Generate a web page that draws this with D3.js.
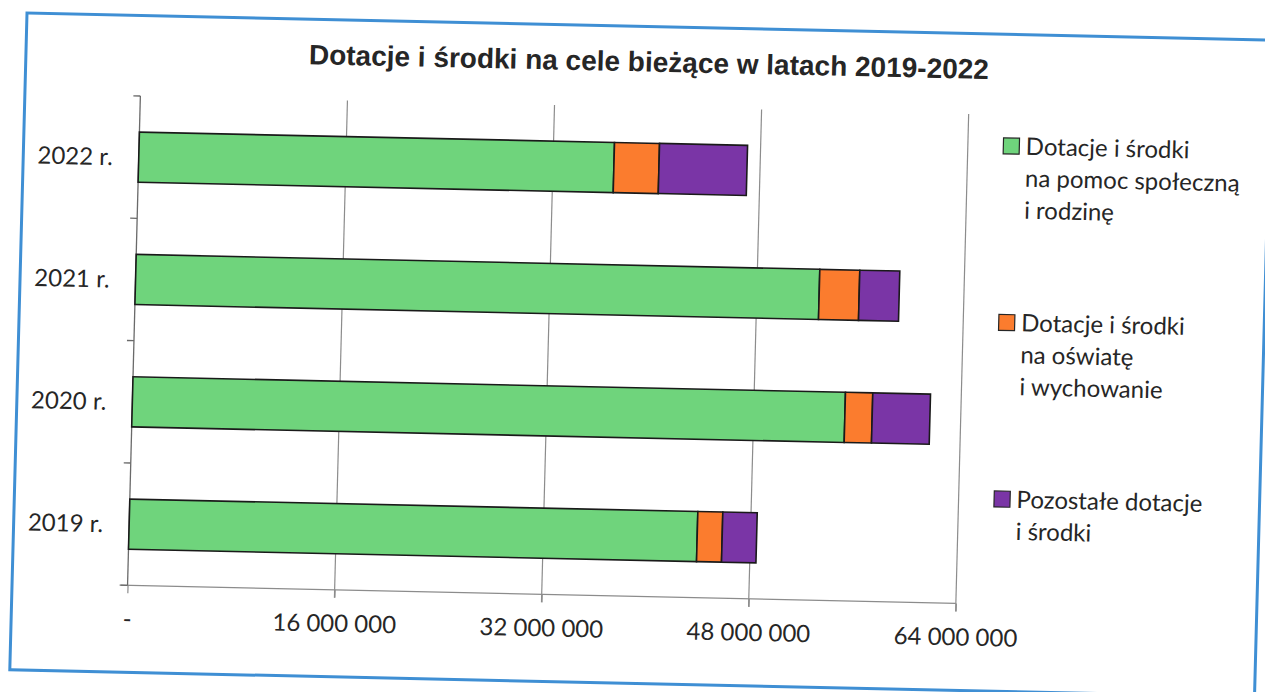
<!DOCTYPE html>
<html>
<head>
<meta charset="utf-8">
<script src="https://cdn.jsdelivr.net/npm/d3@7"></script>
<style>
	body { margin: 0; background: #fff; }
	text { font-family: Lato, "Open Sans", sans-serif; fill: #262626; }
</style>
</head>
<body>
<div id="chart"></div>
<script>
// data
let years = ['2022 r.', '2021 r.', '2020 r.', '2019 r.'];
let social = [36710000, 52820000, 55050000, 43890000];
let education = [3480000, 3090000, 2110000, 1930000];
let other = [6800000, 3090000, 4460000, 2660000];
let seriesLabels = [
	['Dotacje i środki', 'na pomoc społeczną', 'i rodzinę'],
	['Dotacje i środki', 'na oświatę', 'i wychowanie'],
	['Pozostałe dotacje', 'i środki']
];
let seriesColors = ['#6fd47c', '#fb7c2e', '#7a35a6'];
let xTicks = [0, 16000000, 32000000, 48000000, 64000000];
let title = 'Dotacje i środki na cele bieżące w latach 2019-2022';

let width = 1265;
let height = 692;

let svg = d3.select('#chart')
	.append('svg')
	.attr('width', width)
	.attr('height', height);

// the scan is slightly tilted, so the whole page is drawn in a tilted frame
let a = 1.25 * Math.PI / 180, b = 1.5 * Math.PI / 180;
let page = svg.append('g')
	.attr('transform', 'matrix(' + [Math.cos(a), Math.sin(a), -Math.sin(b), Math.cos(b), 27, 13].join(',') + ')');

page.append('rect')
	.attr('x', 0)
	.attr('y', 0)
	.attr('width', 1245)
	.attr('height', 657)
	.attr('fill', 'none')
	.attr('stroke', '#3f8fd4')
	.attr('stroke-width', 3);

page.append('text')
	.attr('x', 623)
	.attr('y', 45)
	.attr('text-anchor', 'middle')
	.attr('font-family', '"Liberation Sans", Arial, sans-serif')
	.attr('font-weight', 'bold')
	.attr('font-size', 28)
	.style('font-family', '"Liberation Sans", Arial, sans-serif')
	.text(title);

let x = d3.scaleLinear()
	.domain([0, 64000000])
	.range([115.5, 944]);

let y = d3.scaleBand()
	.domain(years)
	.range([80.5, 570])
	.paddingInner(0.59)
	.paddingOuter(0.295);

let fmt = d3.formatLocale({decimal: ',', thousands: ' ', grouping: [3], currency: ['', '']}).format(',d');

// gridlines
page.append('g')
	.selectAll('line')
	.data(xTicks.slice(1))
	.enter()
	.append('line')
	.attr('x1', d => x(d))
	.attr('x2', d => x(d))
	.attr('y1', y.range()[0])
	.attr('y2', y.range()[1] + 8)
	.attr('stroke', '#8c8c8c')
	.attr('stroke-width', 1.2);

// bottom axis
let xAxis = page.append('g')
	.attr('transform', 'translate(0,' + y.range()[1] + ')')
	.call(d3.axisBottom(x).tickValues(xTicks).tickSize(8).tickSizeOuter(0)
		.tickFormat(d => d === 0 ? '-' : fmt(d)));
xAxis.select('.domain').attr('stroke', '#8c8c8c').attr('stroke-width', 1.2)
	.attr('d', 'M' + (x(0) - 8) + ',0H' + x(64000000));
xAxis.selectAll('.tick line').attr('stroke', '#8c8c8c').attr('stroke-width', 1.2);
xAxis.selectAll('.tick text')
	.attr('y', 42)
	.attr('dy', 0)
	.attr('font-size', 24)
	.attr('font-family', null)
	.style('fill', '#262626');

// left axis with ticks between categories
let step = y.step();
let boundaries = d3.range(years.length + 1).map(i => y.range()[0] + (y.range()[1] - y.range()[0]) * i / years.length);
page.append('line')
	.attr('x1', x(0)).attr('x2', x(0))
	.attr('y1', y.range()[0]).attr('y2', y.range()[1])
	.attr('stroke', '#6a6a6a')
	.attr('stroke-width', 1.3);
page.append('g')
	.selectAll('line')
	.data(boundaries)
	.enter()
	.append('line')
	.attr('x1', x(0) - 7).attr('x2', x(0))
	.attr('y1', d => d).attr('y2', d => d)
	.attr('stroke', '#6a6a6a')
	.attr('stroke-width', 1.3);

page.append('g')
	.selectAll('text')
	.data(years)
	.enter()
	.append('text')
	.attr('x', x(0) - 26)
	.attr('y', d => y(d) + y.bandwidth() / 2)
	.attr('dy', '0.36em')
	.attr('text-anchor', 'end')
	.attr('font-size', 24)
	.text(d => d);

// stacked bars
let rows = years.map((yr, i) => ({year: yr, s0: social[i], s1: education[i], s2: other[i]}));
let stacked = d3.stack().keys(['s0', 's1', 's2'])(rows);

page.append('g')
	.selectAll('g')
	.data(stacked)
	.enter()
	.append('g')
	.attr('fill', (d, i) => seriesColors[i])
	.selectAll('rect')
	.data(d => d)
	.enter()
	.append('rect')
	.attr('x', d => x(d[0]))
	.attr('y', d => y(d.data.year))
	.attr('width', d => x(d[1]) - x(d[0]))
	.attr('height', y.bandwidth())
	.attr('stroke', '#1a1a1a')
	.attr('stroke-width', 1.6);

// legend
let legend = page.append('g')
	.selectAll('g')
	.data(seriesLabels)
	.enter()
	.append('g')
	.attr('transform', (d, i) => 'translate(0,' + (120 + i * 176.6) + ')');

legend.append('rect')
	.attr('x', 979.5)
	.attr('y', -16.5)
	.attr('width', 16)
	.attr('height', 16)
	.attr('fill', (d, i) => seriesColors[i])
	.attr('stroke', '#262626')
	.attr('stroke-width', 1.2);

legend.append('text')
	.attr('font-size', 24)
	.selectAll('tspan')
	.data(d => d)
	.enter()
	.append('tspan')
	.attr('x', 1002)
	.attr('y', (d, i) => i * 32)
	.text(d => d);
</script>
</body>
</html>
